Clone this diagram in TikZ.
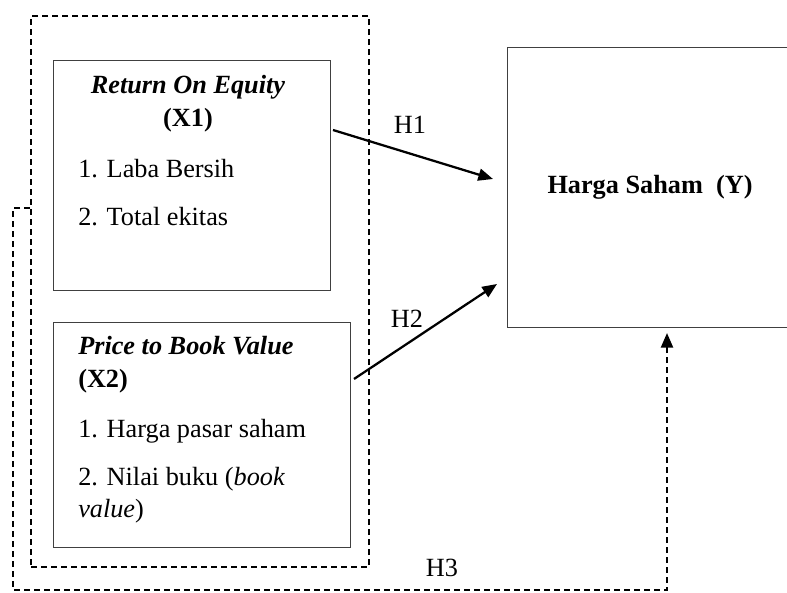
\documentclass[tikz,border=0pt]{standalone}
\usepackage{fontspec}
\setmainfont{Liberation Serif}
\usetikzlibrary{arrows.meta}

\tikzset{
  box/.style={draw=black!75, line width=0.9pt, rectangle, inner sep=0pt, anchor=north west},
  group/.style={draw, line width=1.8pt, dash pattern=on 4.5pt off 3pt, rectangle, inner sep=0pt, anchor=north west},
  txt/.style={inner sep=0pt, font=\fontsize{19.7}{23}\selectfont},
  hyp/.style={line width=1.7pt, -{Triangle[length=11pt,width=9pt]}},
  hypdash/.style={hyp, line width=1.8pt, dash pattern=on 4.5pt off 3pt},
}

\begin{document}
\begin{tikzpicture}[x=0.75pt, y=-0.75pt]

\useasboundingbox (0,0) rectangle (787,592);

\node[group, minimum width=253.5pt, minimum height=413.25pt] (grp) at (30,15) {};
\node[box, minimum width=207.75pt, minimum height=172.5pt] (roe) at (53,60) {};
\node[box, minimum width=222.75pt, minimum height=168.75pt] (pbv) at (53,322) {};
\node[box, minimum width=214.5pt, minimum height=210pt] (harga) at (507,47) {};

\begin{scope}[every node/.style={txt}]
\node[anchor=base] (roet) at (188,93) {\textbf{\textit{Return On Equity}}};
\node[anchor=base] (roex) at (188,126) {\textbf{(X1)}};
\node[anchor=base west] (roe1) at (78,177) {1. Laba Bersih};
\node[anchor=base west] (roe2) at (78,225) {2. Total ekitas};

\node[anchor=base west] (pbvt) at (78,354) {\textbf{\textit{Price to Book Value}}};
\node[anchor=base west] (pbvx) at (78,387) {\textbf{(X2)}};
\node[anchor=base west] (pbv1) at (78,437) {1. Harga pasar saham};
\node[anchor=base west] (pbv2) at (78,485) {2. Nilai buku (\textit{book}};
\node[anchor=base west] (pbv3) at (78,517) {\textit{value})};

\node[anchor=base] (hargat) at (650,193) {\textbf{Harga Saham\ \ (Y)}};

\node[anchor=base] (lh1) at (410,133) {H1};
\node[anchor=base] (lh2) at (407,327) {H2};
\node[anchor=base] (lh3) at (442,576) {H3};
\end{scope}

\coordinate (h1s) at (333,130);
\coordinate (h1e) at (493,179);
\coordinate (h2s) at (354,379);
\coordinate (h2e) at (497,284);
\coordinate (h3s) at (13,208);
\coordinate (h3c) at (667,590);
\coordinate (h3e) at (667,333);

\draw[hyp] (h1s) -- (h1e);
\draw[hyp] (h2s) -- (h2e);
\draw[hypdash] (grp.west |- h3s) -- (h3s) |- (h3c) -- (h3e);

\end{tikzpicture}
\end{document}
